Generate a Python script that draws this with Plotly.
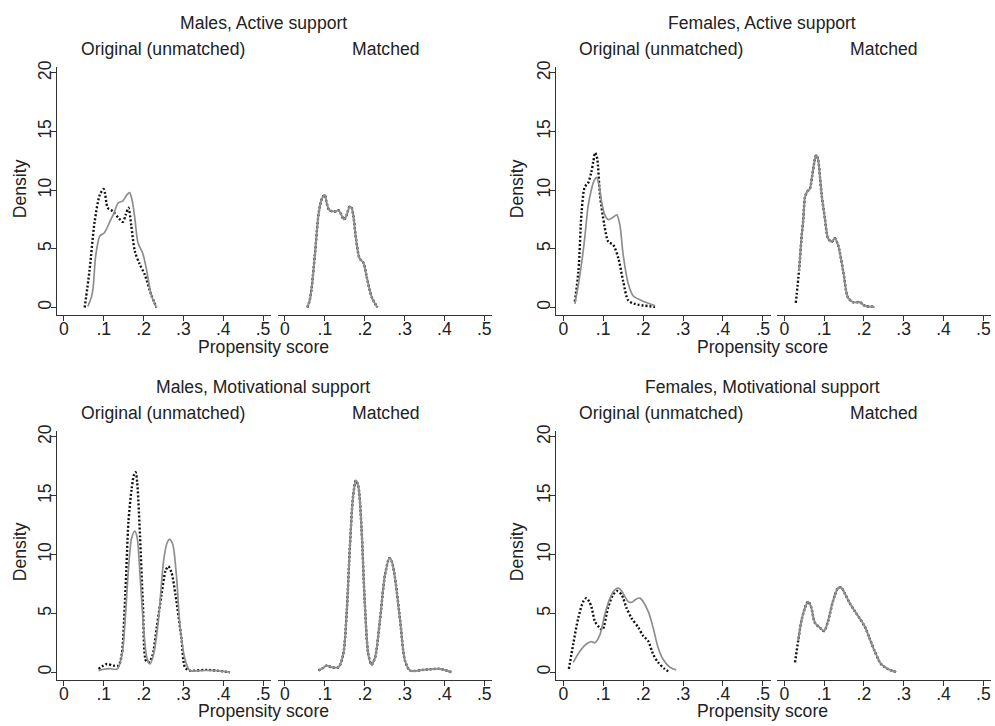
import plotly.graph_objects as go

# ---------------- data ----------------
panel_titles = ["Males, Active support", "Females, Active support",
                "Males, Motivational support", "Females, Motivational support"]
sub_titles = ["Original (unmatched)", "Matched"]
x_tickvals = [0, 0.1, 0.2, 0.3, 0.4, 0.5]
x_ticktext = ["0", ".1", ".2", ".3", ".4", ".5"]
y_tickvals = [0, 5, 10, 15, 20]
y_ticktext = ["0", "5", "10", "15", "20"]

# Males, Active support
ma_orig_treat_x = [0.060, 0.069, 0.073, 0.079, 0.085, 0.090, 0.102, 0.115, 0.125, 0.136, 0.148, 0.158, 0.165, 0.172, 0.178, 0.186, 0.198, 0.207, 0.219, 0.232]
ma_orig_treat_y = [0.1, 0.9, 1.6, 4.2, 5.5, 6.1, 6.4, 7.3, 8.0, 8.9, 9.1, 9.6, 9.8, 9.0, 7.6, 5.5, 4.6, 3.3, 1.1, 0.0]
ma_orig_ctrl_x = [0.052, 0.064, 0.077, 0.090, 0.100, 0.110, 0.123, 0.138, 0.148, 0.155, 0.162, 0.169, 0.178, 0.190, 0.203, 0.219, 0.232]
ma_orig_ctrl_y = [0.0, 3.1, 7.3, 9.6, 10.1, 8.5, 8.2, 7.6, 7.3, 7.9, 8.5, 7.0, 4.8, 3.7, 2.8, 1.1, 0.0]
ma_match_treat_x = [0.056, 0.062, 0.067, 0.075, 0.084, 0.090, 0.096, 0.100, 0.104, 0.111, 0.120, 0.128, 0.134, 0.140, 0.148, 0.155, 0.162, 0.167, 0.172, 0.178, 0.187, 0.197, 0.205, 0.218, 0.232]
ma_match_treat_y = [0.0, 0.6, 1.7, 4.5, 7.9, 9.0, 9.5, 9.6, 9.0, 8.3, 8.2, 8.2, 8.3, 8.0, 7.5, 7.9, 8.6, 8.5, 7.7, 5.9, 4.2, 3.8, 2.6, 0.85, 0.0]
ma_match_ctrl_x = [0.056, 0.062, 0.067, 0.075, 0.084, 0.090, 0.096, 0.100, 0.104, 0.111, 0.120, 0.128, 0.134, 0.140, 0.148, 0.155, 0.162, 0.167, 0.172, 0.178, 0.187, 0.197, 0.205, 0.218, 0.232]
ma_match_ctrl_y = [0.0, 0.6, 1.7, 4.5, 7.9, 9.0, 9.5, 9.6, 9.0, 8.3, 8.2, 8.2, 8.3, 8.0, 7.5, 7.9, 8.6, 8.5, 7.7, 5.9, 4.2, 3.8, 2.6, 0.85, 0.0]

# Females, Active support
fa_orig_treat_x = [0.029, 0.038, 0.046, 0.054, 0.062, 0.070, 0.077, 0.083, 0.090, 0.096, 0.104, 0.113, 0.125, 0.134, 0.142, 0.150, 0.163, 0.175, 0.196, 0.230]
fa_orig_treat_y = [0.3, 2.0, 3.8, 6.0, 8.6, 10.0, 10.8, 11.1, 10.4, 9.0, 7.9, 7.5, 7.7, 7.9, 7.0, 4.5, 2.0, 1.0, 0.6, 0.15]
fa_orig_ctrl_x = [0.029, 0.038, 0.046, 0.054, 0.062, 0.070, 0.075, 0.080, 0.085, 0.092, 0.103, 0.113, 0.125, 0.138, 0.150, 0.163, 0.180, 0.230]
fa_orig_ctrl_y = [0.5, 3.1, 8.2, 10.3, 10.6, 11.5, 12.4, 13.2, 12.7, 9.6, 7.0, 5.6, 5.35, 4.2, 2.25, 0.6, 0.3, 0.05]
fa_match_treat_x = [0.037, 0.044, 0.048, 0.052, 0.058, 0.064, 0.070, 0.075, 0.080, 0.085, 0.090, 0.094, 0.102, 0.110, 0.119, 0.127, 0.135, 0.148, 0.160, 0.173, 0.190, 0.202, 0.227]
fa_match_treat_y = [3.1, 6.2, 7.6, 9.4, 9.9, 10.1, 11.2, 12.3, 13.0, 12.6, 11.0, 9.6, 7.6, 5.9, 5.6, 5.9, 5.35, 3.1, 0.85, 0.45, 0.45, 0.15, 0.05]
fa_match_ctrl_x = [0.029, 0.037, 0.044, 0.048, 0.052, 0.058, 0.064, 0.070, 0.075, 0.080, 0.085, 0.090, 0.094, 0.102, 0.110, 0.119, 0.127, 0.135, 0.148, 0.160, 0.173, 0.190, 0.202, 0.227]
fa_match_ctrl_y = [0.4, 3.1, 6.2, 7.6, 9.4, 9.9, 10.1, 11.2, 12.3, 13.0, 12.6, 11.0, 9.6, 7.6, 5.9, 5.6, 5.9, 5.35, 3.1, 0.85, 0.45, 0.45, 0.15, 0.05]

# Males, Motivational support
mm_orig_treat_x = [0.087, 0.100, 0.115, 0.134, 0.146, 0.154, 0.162, 0.170, 0.178, 0.184, 0.191, 0.200, 0.208, 0.216, 0.225, 0.237, 0.250, 0.258, 0.265, 0.273, 0.283, 0.291, 0.304, 0.316, 0.341, 0.383, 0.417]
mm_orig_treat_y = [0.14, 0.25, 0.3, 0.28, 1.5, 4.6, 8.8, 11.4, 12.0, 11.4, 8.3, 3.8, 1.26, 0.7, 1.5, 4.35, 9.4, 10.9, 11.3, 10.9, 8.0, 4.1, 1.1, 0.14, 0.14, 0.14, 0.0]
mm_orig_ctrl_x = [0.087, 0.099, 0.108, 0.124, 0.137, 0.145, 0.154, 0.162, 0.170, 0.176, 0.180, 0.184, 0.191, 0.198, 0.207, 0.215, 0.223, 0.233, 0.245, 0.255, 0.262, 0.270, 0.280, 0.295, 0.304, 0.316, 0.358, 0.417]
mm_orig_ctrl_y = [0.28, 0.56, 0.7, 0.56, 0.56, 1.5, 6.6, 12.8, 15.6, 16.8, 17.0, 16.1, 11.6, 6.0, 0.9, 0.9, 1.5, 3.8, 6.6, 8.6, 9.0, 8.5, 6.6, 2.9, 0.42, 0.14, 0.2, 0.0]
mm_match_treat_x = [0.084, 0.095, 0.104, 0.117, 0.134, 0.146, 0.155, 0.163, 0.171, 0.178, 0.184, 0.192, 0.200, 0.209, 0.217, 0.226, 0.238, 0.251, 0.262, 0.268, 0.276, 0.289, 0.301, 0.314, 0.347, 0.388, 0.418]
mm_match_treat_y = [0.14, 0.35, 0.56, 0.42, 0.42, 1.5, 5.2, 10.8, 15.0, 16.3, 15.8, 12.2, 6.0, 1.54, 0.64, 1.26, 4.35, 8.3, 9.7, 9.4, 8.0, 4.35, 0.98, 0.14, 0.2, 0.28, 0.0]
mm_match_ctrl_x = [0.084, 0.095, 0.104, 0.117, 0.134, 0.146, 0.155, 0.163, 0.171, 0.178, 0.184, 0.192, 0.200, 0.209, 0.217, 0.226, 0.238, 0.251, 0.262, 0.268, 0.276, 0.289, 0.301, 0.314, 0.347, 0.388, 0.418]
mm_match_ctrl_y = [0.14, 0.35, 0.56, 0.42, 0.42, 1.5, 5.2, 10.8, 15.0, 16.3, 15.8, 12.2, 6.0, 1.54, 0.64, 1.26, 4.35, 8.3, 9.7, 9.4, 8.0, 4.35, 0.98, 0.14, 0.2, 0.28, 0.0]

# Females, Motivational support
fm_orig_treat_x = [0.025, 0.042, 0.058, 0.071, 0.079, 0.092, 0.104, 0.117, 0.129, 0.139, 0.150, 0.163, 0.172, 0.182, 0.192, 0.2125, 0.225, 0.2375, 0.250, 0.267, 0.283]
fm_orig_treat_y = [0.84, 1.8, 2.4, 2.6, 2.5, 3.2, 4.9, 6.3, 7.0, 7.15, 6.7, 6.0, 5.95, 6.2, 6.3, 5.2, 3.8, 2.1, 1.1, 0.42, 0.2]
fm_orig_ctrl_x = [0.014, 0.025, 0.0375, 0.050, 0.058, 0.065, 0.071, 0.079, 0.090, 0.098, 0.112, 0.125, 0.135, 0.146, 0.158, 0.171, 0.188, 0.200, 0.2125, 0.225, 0.2375, 0.254, 0.267]
fm_orig_ctrl_y = [0.28, 2.4, 4.6, 6.0, 6.3, 6.0, 5.5, 4.35, 3.8, 3.6, 5.47, 6.6, 6.9, 6.6, 5.5, 4.6, 3.8, 3.1, 2.67, 1.54, 0.84, 0.28, 0.0]
fm_match_treat_x = [0.035, 0.043, 0.052, 0.060, 0.067, 0.077, 0.089, 0.100, 0.110, 0.122, 0.135, 0.143, 0.152, 0.164, 0.177, 0.189, 0.202, 0.214, 0.227, 0.243, 0.260, 0.281]
fm_match_treat_y = [2.67, 4.35, 5.47, 6.0, 5.6, 4.2, 3.8, 3.5, 4.35, 6.0, 7.15, 7.2, 6.7, 5.9, 5.2, 4.6, 3.9, 2.9, 1.8, 0.7, 0.28, 0.0]
fm_match_ctrl_x = [0.027, 0.035, 0.043, 0.052, 0.060, 0.067, 0.077, 0.089, 0.100, 0.110, 0.122, 0.135, 0.143, 0.152, 0.164, 0.177, 0.189, 0.202, 0.214, 0.227, 0.243, 0.260, 0.281]
fm_match_ctrl_y = [0.84, 2.67, 4.35, 5.47, 6.0, 5.6, 4.2, 3.8, 3.5, 4.35, 6.0, 7.15, 7.2, 6.7, 5.9, 5.2, 4.6, 3.9, 2.9, 1.8, 0.7, 0.28, 0.0]

panels = [
    [(ma_orig_treat_x, ma_orig_treat_y, ma_orig_ctrl_x, ma_orig_ctrl_y),
     (ma_match_treat_x, ma_match_treat_y, ma_match_ctrl_x, ma_match_ctrl_y)],
    [(fa_orig_treat_x, fa_orig_treat_y, fa_orig_ctrl_x, fa_orig_ctrl_y),
     (fa_match_treat_x, fa_match_treat_y, fa_match_ctrl_x, fa_match_ctrl_y)],
    [(mm_orig_treat_x, mm_orig_treat_y, mm_orig_ctrl_x, mm_orig_ctrl_y),
     (mm_match_treat_x, mm_match_treat_y, mm_match_ctrl_x, mm_match_ctrl_y)],
    [(fm_orig_treat_x, fm_orig_treat_y, fm_orig_ctrl_x, fm_orig_ctrl_y),
     (fm_match_treat_x, fm_match_treat_y, fm_match_ctrl_x, fm_match_ctrl_y)],
]

# ---------------- layout geometry (pixels) ----------------
W, H = 995, 726
FONT = "Liberation Sans, Arial, sans-serif"
FS = 17.6
TXT = "#222222"
AX = "#333333"
GRAY = "#8e8e8e"
BLACK = "#111111"

col_x = [  # [orig_left, orig_right, match_left, match_right]
    [56.8, 271.0, 277.8, 492.3],
    [556.1, 770.8, 777.1, 991.3],
]
row_y = [  # [top_px, bottom_px]
    [60.7, 311.1],
    [428.2, 679.4],
]
XR = [-0.018, 0.52]
YR = [-0.65, 20.5]


def px2fx(p):
    return p / W


def px2fy(p):
    return 1 - p / H


fig = go.Figure()
layout = dict(
    width=W, height=H,
    margin=dict(l=0, r=0, t=0, b=0),
    paper_bgcolor="white", plot_bgcolor="white",
    showlegend=False,
    font=dict(family=FONT, size=FS, color=TXT),
    annotations=[],
)

for p in range(4):
    r, c = divmod(p, 2)
    cx = col_x[c]
    ry = row_y[r]
    for s in range(2):
        idx = p * 2 + s + 1
        xl, xr = cx[2 * s], cx[2 * s + 1]
        xn = "x" if idx == 1 else f"x{idx}"
        yn = "y" if idx == 1 else f"y{idx}"
        layout["xaxis" if idx == 1 else f"xaxis{idx}"] = dict(
            domain=[px2fx(xl), px2fx(xr)], anchor=yn, range=XR,
            tickvals=x_tickvals, ticktext=x_ticktext,
            showline=True, linecolor=AX, linewidth=1.2,
            ticks="outside", ticklen=5, tickcolor=AX, tickwidth=1.2,
            ticklabelstandoff=-7,
            showgrid=False, zeroline=False,
            tickfont=dict(family=FONT, size=FS, color=TXT),
        )
        layout["yaxis" if idx == 1 else f"yaxis{idx}"] = dict(
            domain=[px2fy(ry[1]), px2fy(ry[0])], anchor=xn, range=YR,
            tickvals=y_tickvals, ticktext=y_ticktext,
            showline=(s == 0), linecolor=AX, linewidth=1.2,
            ticks="outside" if s == 0 else "", ticklen=5, tickcolor=AX, tickwidth=1.2,
            showticklabels=(s == 0), tickangle=-90,
            ticklabelstandoff=-7,
            showgrid=False, zeroline=False,
            tickfont=dict(family=FONT, size=FS, color=TXT),
        )
        tx, ty, cxv, cyv = panels[p][s]
        fig.add_trace(go.Scatter(
            x=cxv, y=cyv, mode="lines", xaxis=xn, yaxis=yn,
            line=dict(color=BLACK, width=2.4, dash="2px,2px", shape="spline", smoothing=0.8),
            hoverinfo="skip"))
        fig.add_trace(go.Scatter(
            x=tx, y=ty, mode="lines", xaxis=xn, yaxis=yn,
            line=dict(color=GRAY, width=1.7 if s == 0 else 2.0, shape="spline", smoothing=0.8),
            hoverinfo="skip"))
        # subplot titles
        sub_cx = [162.5, 385.0] if c == 0 else [661.0, 883.5]
        layout["annotations"].append(dict(
            text=sub_titles[s], x=px2fx(sub_cx[s]), y=px2fy(42 + r * 367.5),
            xref="paper", yref="paper", xanchor="center", yanchor="middle",
            showarrow=False, font=dict(family=FONT, size=FS, color=TXT)))
    # panel title, x title, y title
    title_cx = 263.0 if c == 0 else 762.0
    layout["annotations"].append(dict(
        text=panel_titles[p], x=px2fx(title_cx), y=px2fy(16 + r * 368),
        xref="paper", yref="paper", xanchor="center", yanchor="middle",
        showarrow=False, font=dict(family=FONT, size=FS, color=TXT)))
    layout["annotations"].append(dict(
        text="Propensity score", x=px2fx(title_cx), y=px2fy(343 + r * 368),
        xref="paper", yref="paper", xanchor="center", yanchor="middle",
        showarrow=False, font=dict(family=FONT, size=FS, color=TXT)))
    dens_x = 20.0 if c == 0 else 517.0
    layout["annotations"].append(dict(
        text="Density", x=px2fx(dens_x), y=px2fy(184 + r * 366.5), textangle=-90,
        xref="paper", yref="paper", xanchor="center", yanchor="middle",
        showarrow=False, font=dict(family=FONT, size=FS, color=TXT)))

fig.update_layout(**layout)
fig.write_html(
    "out.html",
    config={"displayModeBar": False},
    post_script="document.body.style.margin='0px';document.body.style.overflow='hidden';",
)
